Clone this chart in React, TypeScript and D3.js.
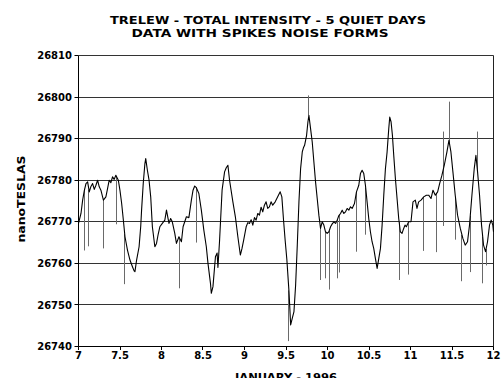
import React from 'react';
import * as d3 from 'd3';

const DAYS = [
  7.00, 7.03, 7.05, 7.07, 7.09, 7.11, 7.13, 7.15, 7.17, 7.19, 7.21, 7.23, 7.25, 7.27, 7.30, 7.33, 7.35, 7.37, 7.39, 7.41,
  7.43, 7.45, 7.48, 7.50, 7.52, 7.54, 7.56, 7.59, 7.62, 7.65, 7.67, 7.68, 7.70, 7.73, 7.75, 7.76, 7.78, 7.80, 7.81, 7.83,
  7.85, 7.87, 7.89, 7.92, 7.94, 7.96, 7.98, 8.01, 8.04, 8.06, 8.09, 8.11, 8.13, 8.16, 8.18, 8.21, 8.24, 8.26, 8.28, 8.30,
  8.33, 8.36, 8.38, 8.40, 8.42, 8.45, 8.48, 8.51, 8.54, 8.56, 8.59, 8.60, 8.62, 8.65, 8.67, 8.68, 8.70, 8.73, 8.76, 8.78,
  8.80, 8.82, 8.86, 8.89, 8.92, 8.95, 8.97, 8.99, 9.02, 9.04, 9.06, 9.08, 9.10, 9.12, 9.14, 9.16, 9.18, 9.20, 9.22, 9.24,
  9.26, 9.28, 9.30, 9.32, 9.34, 9.37, 9.40, 9.43, 9.45, 9.47, 9.49, 9.51, 9.536, 9.556, 9.576, 9.596, 9.616, 9.636, 9.656, 9.676,
  9.696, 9.71, 9.724, 9.748, 9.764, 9.776, 9.796, 9.816, 9.836, 9.856, 9.876, 9.896, 9.916, 9.936, 9.956, 9.976, 9.996, 10.017, 10.037, 10.057,
  10.077, 10.097, 10.117, 10.137, 10.157, 10.177, 10.197, 10.217, 10.237, 10.257, 10.277, 10.297, 10.325, 10.349, 10.377, 10.397, 10.417, 10.437, 10.457, 10.477,
  10.497, 10.517, 10.537, 10.557, 10.577, 10.598, 10.618, 10.638, 10.658, 10.678, 10.698, 10.718, 10.738, 10.75, 10.766, 10.782, 10.798, 10.818, 10.838, 10.858,
  10.878, 10.898, 10.918, 10.934, 10.95, 10.978, 11.006, 11.03, 11.058, 11.078, 11.098, 11.127, 11.159, 11.191, 11.219, 11.247, 11.271, 11.299, 11.327, 11.351,
  11.379, 11.407, 11.439, 11.463, 11.487, 11.511, 11.539, 11.567, 11.6, 11.631, 11.659, 11.687, 11.711, 11.74, 11.768, 11.788, 11.808, 11.832, 11.856, 11.88,
  11.904, 11.928, 11.952, 11.972, 11.992, 12.0,
];

const VALUES = [
  26769.6, 26772.0, 26775.2, 26777.5, 26779.2, 26779.6, 26777.2, 26778.5, 26779.2, 26777.8, 26778.8, 26780.0, 26778.4, 26777.6, 26775.2, 26776.0, 26778.0, 26780.0, 26779.4, 26780.8,
  26780.2, 26781.2, 26780.0, 26777.5, 26774.4, 26770.5, 26766.4, 26763.2, 26760.8, 26759.2, 26758.2, 26758.0, 26760.8, 26764.0, 26769.0, 26772.8, 26779.2, 26784.0, 26785.2, 26782.4,
  26780.0, 26776.0, 26768.8, 26764.0, 26764.8, 26767.0, 26768.8, 26769.6, 26770.4, 26772.8, 26769.6, 26770.8, 26770.0, 26767.2, 26764.8, 26766.4, 26765.2, 26768.8, 26770.0, 26771.2,
  26771.0, 26775.2, 26777.6, 26778.6, 26778.2, 26776.8, 26772.8, 26768.0, 26764.0, 26760.0, 26755.2, 26752.8, 26754.4, 26761.6, 26762.5, 26759.0, 26765.6, 26777.6, 26782.0, 26783.0,
  26783.6, 26780.0, 26774.8, 26771.2, 26766.4, 26762.0, 26763.6, 26765.6, 26768.8, 26769.8, 26769.6, 26770.5, 26769.2, 26771.0, 26770.4, 26772.0, 26771.6, 26773.5, 26772.4, 26774.0,
  26774.8, 26773.2, 26773.6, 26774.8, 26774.0, 26774.8, 26776.0, 26777.2, 26776.0, 26770.5, 26765.5, 26761.0, 26753.2, 26745.2, 26746.8, 26748.4, 26754.8, 26764.4, 26774.8, 26782.8,
  26786.8, 26787.8, 26788.4, 26790.8, 26794.0, 26795.6, 26792.4, 26789.2, 26784.4, 26779.6, 26775.6, 26771.6, 26768.4, 26770.0, 26769.2, 26767.6, 26767.2, 26767.6, 26768.8, 26769.5,
  26770.0, 26769.6, 26770.4, 26771.5, 26772.0, 26772.8, 26772.0, 26772.4, 26773.2, 26772.8, 26773.6, 26773.2, 26774.4, 26777.2, 26778.8, 26781.6, 26782.4, 26781.6, 26778.8, 26774.8,
  26770.8, 26767.6, 26765.2, 26763.6, 26761.2, 26758.8, 26761.2, 26763.6, 26769.2, 26776.4, 26782.8, 26786.8, 26792.4, 26795.2, 26794.0, 26790.8, 26786.0, 26780.4, 26775.6, 26770.8,
  26767.6, 26767.2, 26768.4, 26769.2, 26768.8, 26770.0, 26770.0, 26774.8, 26775.2, 26773.2, 26774.8, 26775.2, 26776.0, 26776.4, 26776.4, 26775.6, 26777.6, 26776.4, 26777.2, 26779.2,
  26781.2, 26783.6, 26786.8, 26789.6, 26786.8, 26782.0, 26776.4, 26771.6, 26768.4, 26766.0, 26764.4, 26765.2, 26769.2, 26776.4, 26782.8, 26786.0, 26782.0, 26776.4, 26769.2, 26764.4,
  26762.8, 26765.2, 26769.2, 26770.4, 26769.2, 26767.6,
];

const SPIKE_DAYS = [
  7.075, 7.126, 7.305, 7.455, 7.557, 8.218, 8.416, 9.535, 9.776, 9.92, 9.978, 10.02, 10.12, 10.145, 10.35, 10.46,
  10.862, 10.97, 11.159, 11.31, 11.40, 11.40, 11.471, 11.543, 11.62, 11.72, 11.808, 11.87, 11.91,
];
const SPIKE_VALUES = [
  26763.1, 26764.1, 26763.6, 26769.4, 26755.0, 26754.0, 26765.0, 26741.3, 26800.4, 26756.0, 26756.4, 26753.7, 26756.4, 26757.8, 26762.8, 26766.9,
  26756.0, 26757.3, 26763.0, 26762.7, 26791.7, 26769.0, 26798.9, 26765.7, 26755.7, 26757.9, 26791.7, 26755.2, 26759.5,
];

const Y_TICKS = [26740, 26750, 26760, 26770, 26780, 26790, 26800, 26810];
const X_TICKS = [7, 7.5, 8, 8.5, 9, 9.5, 10, 10.5, 11, 11.5, 12];
const TITLE_LINES = ['TRELEW - TOTAL INTENSITY - 5 QUIET DAYS', 'DATA WITH SPIKES NOISE FORMS'];
const X_LABEL = 'JANUARY - 1996';
const Y_LABEL = 'nanoTESLAS';

const FONT = '"DejaVu Sans", sans-serif';

export default function App() {
  const W = 503, H = 378;
  const x = d3.scaleLinear().domain([7, 12]).range([78.5, 493.5]);
  const y = d3.scaleLinear().domain([26740, 26810]).range([346.5, 55.5]);
  const snap = (v: number) => Math.round(v - 0.5) + 0.5;

  const data: [number, number][] = DAYS.map((d, i) => [d, VALUES[i]]);
  const line = d3.line<[number, number]>().x(d => x(d[0])).y(d => y(d[1]));
  const bis = d3.bisector((d: [number, number]) => d[0]).left;
  const curveAt = (day: number) => {
    const i = Math.max(1, Math.min(data.length - 1, bis(data, day)));
    const a = data[i - 1], b = data[i];
    const t = (day - a[0]) / (b[0] - a[0]);
    return a[1] + (b[1] - a[1]) * t;
  };

  const [x0, x1] = x.range();
  const yTop = snap(y(26810)), yBot = snap(y(26740));

  return (
    <svg width={W} height={H} style={{ position: 'absolute', left: 0, top: 0, background: '#fff' }} fontFamily={FONT}>
      <rect x={0} y={0} width={W} height={H} fill="#fff" />
      {/* title */}
      <text x={110} y={24} fontSize={10} fontWeight="bold" textLength={316} lengthAdjust="spacingAndGlyphs" fill="#000">{TITLE_LINES[0]}</text>
      <text x={131.5} y={36.7} fontSize={10} fontWeight="bold" textLength={257} lengthAdjust="spacingAndGlyphs" fill="#000">{TITLE_LINES[1]}</text>

      {/* gridlines */}
      {Y_TICKS.map(t => (
        <line key={'g' + t} x1={x0} x2={x1} y1={snap(y(t))} y2={snap(y(t))} stroke="#333" strokeWidth={1} />
      ))}
      {/* right border */}
      <line x1={snap(x1)} x2={snap(x1)} y1={yTop} y2={yBot} stroke="#222" strokeWidth={1} />

      {/* spikes */}
      {SPIKE_DAYS.map((d, i) => (
        <line key={'s' + i} x1={snap(x(d))} x2={snap(x(d))} y1={y(curveAt(d))} y2={y(SPIKE_VALUES[i])} stroke="#6a6a6a" strokeWidth={1} />
      ))}

      {/* data line */}
      <path d={line(data) || ''} fill="none" stroke="#000" strokeWidth={1.1} strokeLinejoin="round" />

      {/* axes */}
      <line x1={snap(x0)} x2={snap(x0)} y1={yTop} y2={yBot} stroke="#000" strokeWidth={1} />
      <line x1={x0} x2={x1} y1={yBot} y2={yBot} stroke="#000" strokeWidth={1} />
      {Y_TICKS.map(t => (
        <g key={'yt' + t}>
          <line x1={snap(x0) - 4} x2={snap(x0)} y1={snap(y(t))} y2={snap(y(t))} stroke="#000" strokeWidth={1} />
          <text x={72} y={y(t) + 3.7} fontSize={10} fontWeight="bold" textAnchor="end" fill="#000">{t}</text>
        </g>
      ))}
      {X_TICKS.map(t => (
        <g key={'xt' + t}>
          <line x1={snap(x(t))} x2={snap(x(t))} y1={yBot} y2={yBot + 3.5} stroke="#000" strokeWidth={1} />
          <text x={x(t)} y={359} fontSize={10} fontWeight="bold" textAnchor="middle" fill="#000">{String(t)}</text>
        </g>
      ))}

      {/* axis labels */}
      <text x={286} y={380.5} fontSize={10} fontWeight="bold" textAnchor="middle" textLength={102} lengthAdjust="spacingAndGlyphs" fill="#000">{X_LABEL}</text>
      <text transform="translate(24.5,199) rotate(-90)" fontSize={10} fontWeight="bold" textAnchor="middle" textLength={87} lengthAdjust="spacingAndGlyphs" fill="#000">{Y_LABEL}</text>
    </svg>
  );
}
